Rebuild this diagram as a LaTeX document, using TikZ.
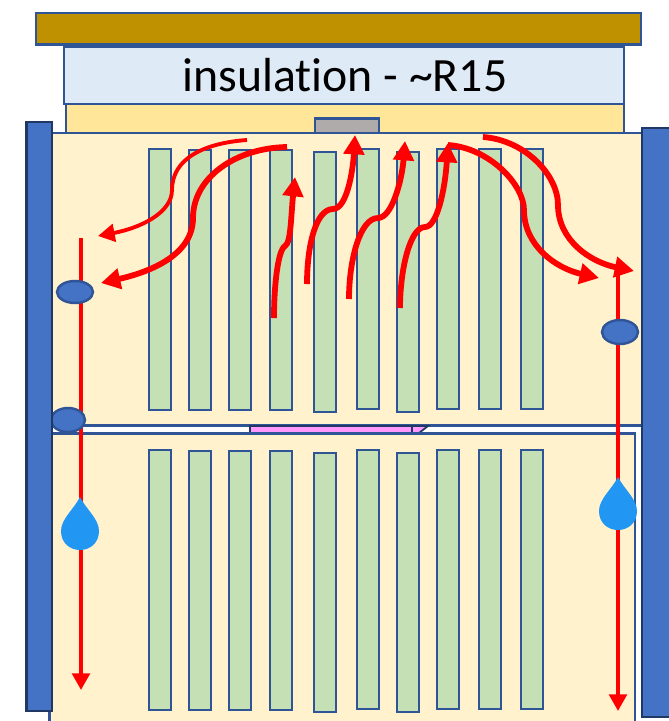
\documentclass[tikz,border=0pt]{standalone}
\usepackage{fontspec}
\setmainfont[Ligatures=NoCommon]{Carlito}
\usetikzlibrary{arrows.meta}
\definecolor{roofbrown}{HTML}{BF9000}
\definecolor{edgeblue}{HTML}{2F5597}
\definecolor{edgedark}{HTML}{1F3864}
\definecolor{postblue}{HTML}{4472C4}
\definecolor{insblue}{HTML}{DEEAF6}
\definecolor{deckyellow}{HTML}{FFE699}
\definecolor{boxcream}{HTML}{FFF2CC}
\definecolor{fingreen}{HTML}{C5E0B4}
\definecolor{gapgray}{HTML}{AFABAB}
\definecolor{gappink}{HTML}{FF99FF}
\definecolor{dropblue}{HTML}{2196F3}
\tikzset{
  part/.style={draw=edgeblue, line width=1.4pt},
  post/.style={draw=edgedark, fill=postblue, line width=1.4pt},
  fin/.style={part, fill=fingreen},
  midflow/.style={draw=red, line width=2.2pt, -{Triangle[length=9.5pt, width=10pt]}},
  thickflow/.style={draw=red, line width=3.3pt, -{Triangle[length=11pt, width=11.5pt]}},
  dropline/.style={draw=red, line width=2.2pt, -{Triangle[length=9.5pt, width=10pt]}}
}
\begin{document}
\begin{tikzpicture}[x=0.02cm, y=-0.02cm]
  \clip (0, 0) rectangle (669, 721);
  % roof stack
  \draw[part, fill=roofbrown] (36, 13) rectangle (641, 44.5);
  \draw[part, fill=insblue] (64, 46.5) rectangle (624, 104);
  \node[font=\fontsize{27.2}{32}\selectfont] (insulation) at (345, 75) {insulation - \textasciitilde R15};
  \draw[part, fill=deckyellow] (66, 104) rectangle (624, 133);
  \draw[part, fill=gapgray] (315, 118.5) rectangle (379, 133);
  % the two boxes and the gap
  \draw[part, fill=boxcream] (52, 133) rectangle (642, 425.5);
  \draw[draw=edgedark, fill=gappink, line width=1pt] (250, 426) rectangle (412, 433);
  \draw[draw=edgedark, fill=gappink, line width=1pt] (412, 426) -- (428, 426) -- (419, 433) -- (412, 433) -- cycle;
  \draw[part, fill=boxcream] (49.5, 433.5) rectangle (635, 730);
  % fins
  \foreach \xa/\xb/\ytop/\ybot in {149/171/149/410, 189/211/150/410, 229/251/150/410, 270/292/150/410,
      314/336/152/412, 357/379/149/409, 397/419/152/412, 437/459/149/409, 479/501/149/409, 521/543/149/409} {
    \draw[fin] (\xa, \ytop) rectangle (\xb, \ybot);
    \draw[fin] (\xa, \ytop + 301) rectangle (\xb, \ybot + 300);
  }
  % air going up and over
  \draw[midflow] (247, 140) .. controls (205, 143) and (172, 158) .. (172, 190)
      .. controls (172, 213) and (140, 228) .. (98, 236);
  \draw[thickflow] (287, 147) .. controls (235, 148) and (193, 178) .. (193, 218)
      .. controls (193, 255) and (150, 272) .. (101, 283);
  \draw[thickflow] (274, 318) .. controls (274, 285) and (278, 250) .. (285, 246)
      .. controls (291, 243) and (291, 215) .. (295, 177);
  \draw[thickflow] (307, 284) .. controls (307, 245) and (316, 209) .. (333, 209)
      .. controls (347, 209) and (353, 170) .. (355, 135);
  \draw[thickflow] (349, 299) .. controls (349, 260) and (360, 218) .. (378, 218)
      .. controls (392, 218) and (402, 180) .. (405, 141);
  \draw[thickflow] (400, 308) .. controls (400, 270) and (410, 227) .. (425, 227)
      .. controls (437, 227) and (445, 190) .. (448, 143);
  \draw[thickflow] (448, 145) .. controls (490, 148) and (524, 185) .. (524, 210)
      .. controls (524, 245) and (555, 268) .. (599, 278);
  \draw[thickflow] (483, 137) .. controls (525, 140) and (558, 175) .. (558, 205)
      .. controls (558, 240) and (590, 262) .. (634, 271);
  % condensate running down
  \draw[dropline] (81, 238) -- (81, 690);
  \draw[dropline] (618, 262) -- (618, 711);
  \draw[part, fill=postblue] (75, 292) ellipse (18 and 11);
  \draw[part, fill=postblue] (68, 420) ellipse (17 and 12);
  \draw[part, fill=postblue] (620, 332) ellipse (18 and 12);
  \foreach \xd/\yd in {80/497, 618/477} {
    \fill[dropblue, shift={(\xd, \yd)}] (0, 0) .. controls (-6, 12) and (-19, 22) .. (-19, 34)
        .. controls (-19, 46) and (-10, 53) .. (0, 53)
        .. controls (10, 53) and (19, 46) .. (19, 34)
        .. controls (19, 22) and (6, 12) .. (0, 0) -- cycle;
  }
  % side posts
  \draw[post] (26.5, 122) rectangle (52, 711);
  \draw[post] (642, 128) rectangle (690, 717);
\end{tikzpicture}
\end{document}
